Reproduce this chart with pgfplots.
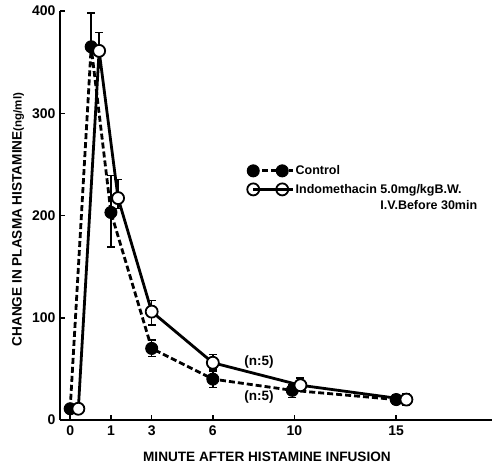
\documentclass[border=0pt]{standalone}
\usepackage{fontspec}
\setmainfont{Liberation Sans}
\usepackage{pgfplots}
\usepackage{pgfplotstable}
\pgfplotsset{compat=1.18}

% x position u: 0 min -> 0, then u = t + 1 for t >= 1 (the first minute is stretched)
% columns: u, mean change, error up, error down
\pgfplotstableread{
u     y    ep  em
0.00  11   3   3
1.03  365  33  0
2.00  203  36  34
4.00  70   8   8
7.00  40   8   8
10.9  29   5   7
16.0  20   5   5
}\ctrl
\pgfplotstableread{
u     y    ep  em
0.40  11   3   3
1.42  361  18  0
2.35  217  18  10
4.00  106  11  13
7.00  56   8   6
11.3  34   7   5
16.5  20   6   6
}\indo

\begin{document}
\begin{tikzpicture}
\useasboundingbox (-60pt,-46pt) rectangle (437pt,420pt);
\begin{axis}[
  scale only axis, width=432pt, height=409pt,
  xmin=-0.5, xmax=20.7, ymin=0, ymax=400,
  axis x line=bottom, axis y line=left,
  axis line style={line width=2pt, -},
  xtick={0,2,4,7,11,16}, xticklabels={0,1,3,6,10,15},
  ytick={0,100,200,300,400},
  tick align=inside,
  major tick length=5pt,
  tick style={line width=1.5pt, black},
  /pgf/number format/assume math mode=true,
  ticklabel style={font=\bfseries\fontsize{14}{16}\selectfont},
  yticklabel style={xshift=-1pt},
  xticklabel style={yshift=-2pt},
  xlabel={MINUTE AFTER HISTAMINE INFUSION},
  ylabel={CHANGE IN PLASMA HISTAMINE{\fontsize{11.5}{13}\selectfont(ng/ml)}},
  label style={font=\bfseries\fontsize{13.6}{16}\selectfont},
  xlabel style={at={(axis description cs:0.479,0)}, anchor=center, yshift=-37pt},
  ylabel style={at={(axis description cs:-0.097,0.49)}, anchor=center},
  legend style={at={(axis description cs:0.433,0.625)}, anchor=north west,
    draw=none, fill=none, inner sep=0pt, row sep=6pt,
    font=\bfseries\fontsize{12.5}{14}\selectfont,
    nodes={inner sep=1pt}},
  legend cell align=left,
  legend image code/.code={%
    \draw[#1] plot coordinates {(0pt,0pt) (29pt,0pt)};
    \path (0pt,0pt) -- (40pt,0pt);},
  err/.style={forget plot, draw=none, mark=none,
    error bars/.cd, y dir=both, y explicit,
    error bar style={draw=black, line width=1.5pt, solid},
    error mark options={draw=black, rotate=90, mark size=4pt, line width=1.5pt}},
]
% error bars first, so the markers sit on top of them
\addplot[err] table[x=u, y=y, y error plus=ep, y error minus=em] {\ctrl};
\addplot[err] table[x=u, y=y, y error plus=ep, y error minus=em] {\indo};

\addplot[black, line width=2.8pt, dash pattern=on 6pt off 3pt,
  mark=*, mark size=6pt, mark options={solid, fill=black, line width=1pt}]
  table[x=u, y=y] {\ctrl};
\addlegendentry{Control}

\addplot[black, line width=2.8pt,
  mark=*, mark size=6pt, mark options={solid, fill=white, line width=1.8pt}]
  table[x=u, y=y] {\indo};
\addlegendentry{Indomethacin \rlap{\raisebox{-16pt}[0pt][0pt]{I.V.Before 30min}}5.0mg/kgB.W.}

\node[font=\bfseries\fontsize{13.5}{15}\selectfont] at (axis cs:9.27,57) {(n:5)};
\node[font=\bfseries\fontsize{13.5}{15}\selectfont] at (axis cs:9.27,22.5) {(n:5)};
\end{axis}
\end{tikzpicture}
\end{document}
